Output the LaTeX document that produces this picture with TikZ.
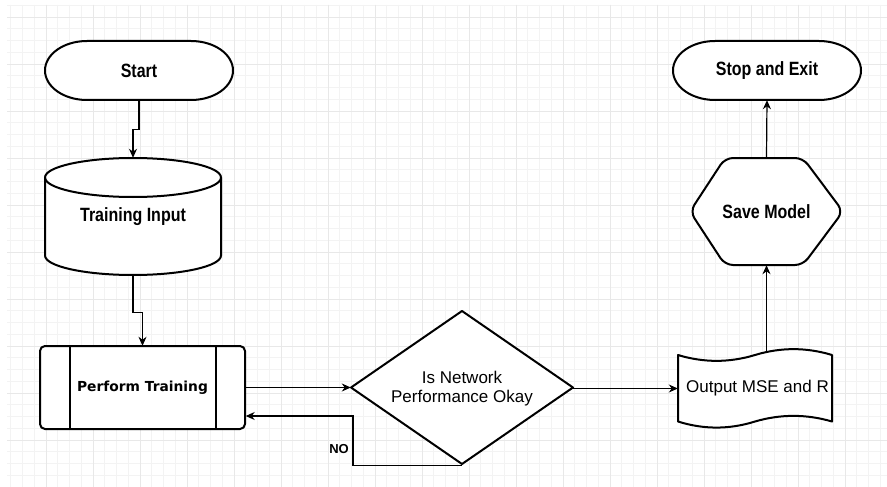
\documentclass[tikz,border=0pt]{standalone}
\usepackage{fontspec}
\usepackage{graphicx}
\setmainfont{Liberation Sans}
\newfontfamily\dejavu{DejaVu Sans}
\usetikzlibrary{arrows.meta}
\definecolor{gridminor}{RGB}{243,243,243}
\definecolor{gridmajor}{RGB}{232,232,232}
\newcommand\bt[1]{\scalebox{1}[1.2]{\bfseries #1}}
\tikzset{
  lbl/.style={inner sep=0pt, draw=none, align=center, font=\fontsize{16}{19}\selectfont},
  shp/.style={draw=black, line width=2pt, fill=white, line join=round},
  arr/.style={draw=black, line width=1.2pt, -{Stealth[length=9pt,width=8pt]}},
  gminor/.style={draw=gridminor, line width=0.7pt},
  gmajor/.style={draw=gridmajor, line width=0.9pt}
}
\begin{document}
\begin{tikzpicture}[x=1pt,y=-1pt]
\useasboundingbox (0,0) rectangle (887,487);
\fill[white] (0,0) rectangle (887,487);
% grid
\foreach \i in {0,...,74} { \draw[gminor] ({10.75+11.75*\i},5) -- ({10.75+11.75*\i},487); }
\foreach \j in {0,...,40} { \draw[gminor] (7,{5.25+11.75*\j}) -- (887,{5.25+11.75*\j}); }
\foreach \k in {0,...,17} { \draw[gmajor] ({46+47*\k},5) -- ({46+47*\k},487); }
\foreach \k in {0,...,10} { \draw[gmajor] (7,{17+47*\k}) -- (887,{17+47*\k}); }
% shapes
% Start terminator
\draw[shp] (87,41) -- (191,41) arc[start angle=90,end angle=-90,x radius=42pt,y radius=29.5pt]
  -- (87,100) arc[start angle=270,end angle=90,x radius=42pt,y radius=29.5pt] -- cycle;
% Stop terminator
\draw[shp] (715,41) -- (819,41) arc[start angle=90,end angle=-90,x radius=42pt,y radius=29.5pt]
  -- (715,100) arc[start angle=270,end angle=90,x radius=42pt,y radius=29.5pt] -- cycle;
% cylinder
\draw[shp] (45,177.5) -- (45,255.5) arc[start angle=180,end angle=360,x radius=88pt,y radius=19.5pt]
  -- (221,177.5) arc[start angle=0,end angle=180,x radius=88pt,y radius=19.5pt] -- cycle;
\draw[draw=black, line width=2pt] (45,177.5) arc[start angle=180,end angle=360,x radius=88pt,y radius=19.5pt];
% predefined process
\draw[shp, rounded corners=5pt] (40,346) rectangle (245,429);
\draw[draw=black, line width=2pt] (70,346) -- (70,429) (216,346) -- (216,429);
% decision
\draw[shp] (462,311) -- (573,387.5) -- (462,464) -- (351,387.5) -- cycle;
% tape
\draw[shp] (678,355) .. controls (703.67,362.8) and (729.33,362.8) .. (755,355)
  .. controls (780.67,347.2) and (806.33,347.2) .. (832,355) -- (832,421.5)
  .. controls (806.33,414.0) and (780.67,414.0) .. (755,421.5)
  .. controls (729.33,429.6) and (703.67,429.6) .. (678,421.5) -- cycle;
% hexagon
\draw[shp, rounded corners=8pt] (725,158) -- (803,158) -- (843,211.5) -- (803,265) -- (725,265) -- (690,211.5) -- cycle;
% nodes
\node[lbl, minimum width=188pt, minimum height=59pt] (start) at (139,70.5) {\bt{Start}};
\node[lbl, minimum width=176pt, minimum height=117pt] (input) at (133,216.5) {\bt{Training Input}};
\node[lbl, minimum width=206pt, minimum height=83pt] (train) at (142.5,387.5) {\dejavu\bfseries\fontsize{13.8}{16}\selectfont Perform Training};
\node[lbl, minimum width=222pt, minimum height=153pt, font=\fontsize{17}{19}\selectfont] (dec) at (462,389) {Is Network\\Performance Okay};
\node[lbl, minimum width=154pt, minimum height=80pt, font=\fontsize{17}{19}\selectfont] (out) at (755,388.5) {\hspace*{5pt}Output MSE and R};
\node[lbl, minimum width=153pt, minimum height=107pt] (save) at (766.5,211.5) {\bt{Save Model}};
\node[lbl, minimum width=188pt, minimum height=59pt] (stop) at (767,70.5) {\bt{Stop and Exit}};
% connectors
\draw[arr] (start.south) -- ++(0,29) -| (input.north);
\draw[arr] (input.south) -- ++(0,37) -| (train.north);
\draw[arr] (train.east) -- (dec.west |- train.east);
\draw[arr] (dec.south) -- ++(-109,0) |- ([yshift=-28.5pt]train.east);
\node[lbl, font=\fontsize{13}{15}\selectfont\bfseries] (no) at (339,449) {NO};
\draw[arr] (dec.east |- out.west) -- (out.west);
\draw[arr] (save.south |- out.north) ++(0,3.4) -- (save.south);
\draw[arr] (save.north) -- (stop.south);
\end{tikzpicture}
\end{document}
